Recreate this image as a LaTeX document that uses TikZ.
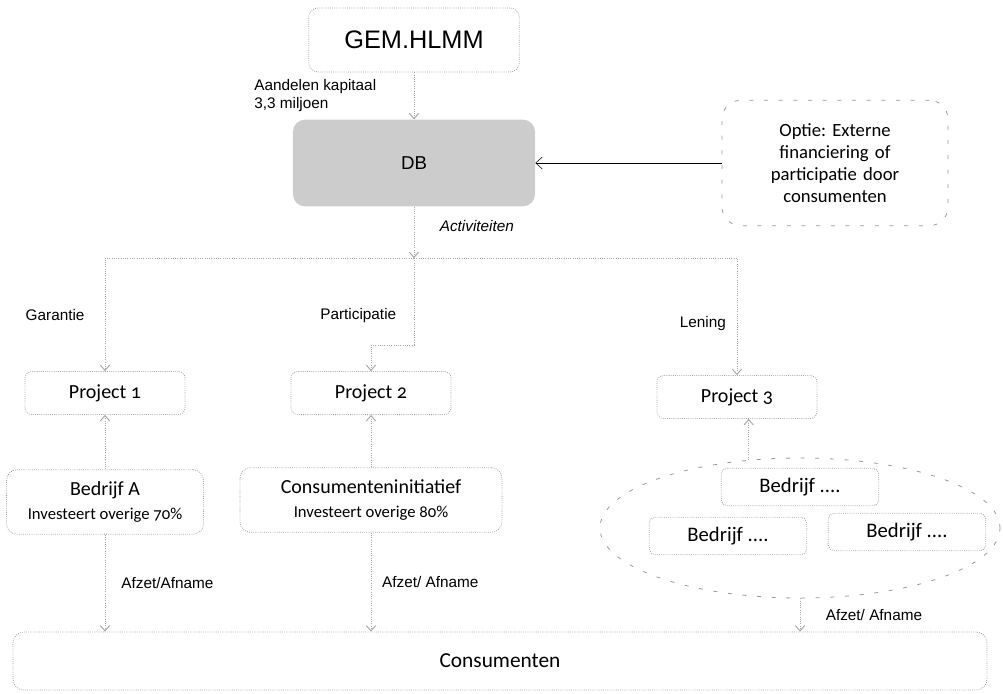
\documentclass[tikz,border=0pt]{standalone}
\usepackage{fontspec}
\setmainfont{Liberation Sans}
\newfontfamily\boxfont{Carlito}[Numbers=OldStyle]
\frenchspacing
\usetikzlibrary{shapes.geometric, arrows.meta, positioning}
\tikzstyle{topbox} = [rectangle, rounded corners=7pt,
minimum width=158pt,
minimum height=48pt,
text centered,
draw=gray!75, densely dotted, line width=0.6pt,
font=\fontsize{19}{22}\selectfont]
\tikzstyle{dbbox} = [rectangle, rounded corners=9pt,
minimum width=181.5pt,
minimum height=65pt,
text centered,
fill=gray!40, draw=none,
font=\fontsize{14}{16}\selectfont]
\tikzstyle{optbox} = [rectangle, rounded corners=14pt,
minimum width=169.5pt,
minimum height=94pt,
text width=150pt, align=center,
draw=gray!80, dash pattern=on 3pt off 8pt, line width=0.6pt,
font=\boxfont\fontsize{14}{16.5}\selectfont]
\tikzstyle{projbox} = [rectangle, rounded corners=5pt,
minimum width=120pt,
minimum height=32.25pt,
text centered,
draw=gray!75, densely dotted, line width=0.6pt,
font=\boxfont\fontsize{15}{18}\selectfont]
\tikzstyle{firmbox} = [rectangle, rounded corners=8pt,
minimum height=48.5pt,
align=center,
draw=gray!75, densely dotted, line width=0.6pt,
font=\boxfont\fontsize{15}{17.5}\selectfont]
\tikzstyle{smallbox} = [rectangle, rounded corners=4pt,
minimum width=118pt,
minimum height=28pt,
text centered,
draw=gray!75, densely dotted, line width=0.6pt,
font=\boxfont\fontsize{15.5}{18}\selectfont]
\tikzstyle{groupring} = [ellipse,
minimum width=300pt,
minimum height=105pt,
inner sep=0pt,
draw=gray!80, dash pattern=on 3pt off 8pt, line width=0.6pt]
\tikzstyle{conbox} = [rectangle, rounded corners=8pt,
minimum width=730.5pt,
minimum height=43.5pt,
text centered,
draw=gray!75, densely dotted, line width=0.6pt,
font=\boxfont\fontsize{16}{19}\selectfont]
\tikzstyle{lbl} = [font=\fontsize{11.5}{13.5}\selectfont, align=left, inner sep=0pt, text=black]
\tikzstyle{arrow} = [gray!70, densely dotted, line width=0.7pt, -{Straight Barb[length=4pt,width=7pt]}]
\tikzstyle{inflow} = [black, -{Straight Barb[length=5pt,width=9pt]}]

\begin{document}
\begin{tikzpicture}[on grid]
			\useasboundingbox (-310.5pt,30pt) rectangle (441.75pt,-489.75pt);
			\node (gem) [topbox] at (0,0) {GEM.HLMM};
			\node (db) [dbbox, below=92.25pt of gem] {DB};
			\node (optie) [optbox, right=315.75pt of db] {Optie: Externe\\financiering of\\participatie door\\consumenten};
			\coordinate [below=38.6pt of db.south] (hub);
			\coordinate [below=65.25pt of hub] (bend);
			\node (proj2) [projbox, below left=172.5pt and 32.25pt of db] {Project 2};
			\node (proj1) [projbox, left=199.5pt of proj2] {Project 1};
			\node (proj3) [projbox, right=274.5pt of proj2, yshift=-3pt] {Project 3};
			\node (bedrA) [firmbox, minimum width=147.75pt, below=81.75pt of proj1] {Bedrijf A\\{\fontsize{12.5}{14}\selectfont Investeert overige 70\%}};
			\node (consi) [firmbox, minimum width=196.5pt, below=80.25pt of proj2] {Consumenteninitiatief\\{\fontsize{12.5}{14}\selectfont Investeert overige 80\%}};
			\node (bedrijven) [groupring, below right=98.25pt and 47.25pt of proj3] {};
			\node (bed1) [smallbox, above=30.75pt of bedrijven] {Bedrijf ....};
			\node (bed2) [smallbox, below left=6pt and 54pt of bedrijven] {Bedrijf ....};
			\node (bed3) [smallbox, below right=3pt and 80.25pt of bedrijven] {Bedrijf ....};
			\node (cons) [conbox, below right=120.75pt and 96.75pt of consi] {Consumenten};

			\draw[arrow] (gem) -- node[lbl, left=28pt] {Aandelen kapitaal\\3,3 miljoen} (db);
			\draw[inflow] (optie) -- (db);
			\draw[arrow] (db) -- node[lbl, pos=0.38, right=19pt] {\itshape Activiteiten} (hub);
			\draw[arrow] (hub) -| node[lbl, pos=0.75, left=15pt] {Garantie} (proj1.north);
			\draw[arrow] (hub) -- node[lbl, pos=0.66, left=13pt] {Participatie} (bend) -| (proj2.north);
			\draw[arrow] (hub) -| node[lbl, pos=0.78, left=8pt] {Lening} (proj3.north);
			\draw[arrow] (bedrA) -- (proj1);
			\draw[arrow] (consi) -- (proj2);
			\draw[arrow] (bedrijven.127) -- (bedrijven.127 |- proj3.south);
			\draw[arrow] (bedrA.south) -- node[lbl, right=12pt] {Afzet/Afname} (bedrA.south |- cons.north);
			\draw[arrow] (consi.south) -- node[lbl, right=8pt] {Afzet/ Afname} (consi.south |- cons.north);
			\draw[arrow] (bedrijven.south) -- node[lbl, right=19pt] {Afzet/ Afname} (bedrijven.south |- cons.north);
		\end{tikzpicture}
\end{document}
